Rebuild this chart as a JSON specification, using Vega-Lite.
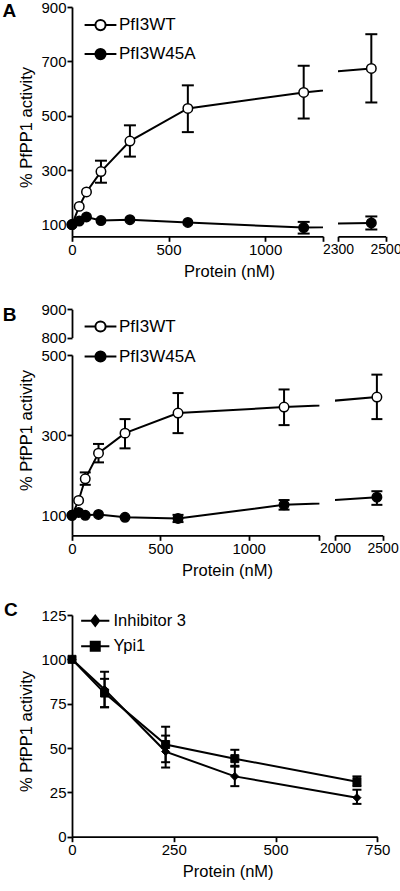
{
  "$schema": "https://vega.github.io/schema/vega-lite/v6.json",
  "padding": {"left": 2, "top": 0, "right": 0, "bottom": 0},
  "config": {
    "font": "Liberation Sans",
    "view": {"stroke": null},
    "axis": {"grid": false, "domainColor": "black", "domainWidth": 1.8, "tickColor": "black", "tickWidth": 1.8, "tickSize": 5, "labelColor": "black", "labelFontSize": 15, "labelPadding": 1, "labelFlush": false, "labelOverlap": false, "format": "d", "titleColor": "black", "titleFontSize": 16.5, "titleFontWeight": "normal", "titlePadding": 6, "labelFont": "Liberation Sans", "titleFont": "Liberation Sans"},
    "legend": {"labelColor": "black", "labelFont": "Liberation Sans"},
    "title": {"color": "black", "font": "Liberation Sans", "fontSize": 19, "fontWeight": "bold"}
  },
  "datasets": {
    "a": [
      {"s": "PfI3WT", "x": 0, "y": 100},
      {"s": "PfI3WT", "x": 37.5, "y": 167},
      {"s": "PfI3WT", "x": 75, "y": 220},
      {"s": "PfI3WT", "x": 150, "y": 295, "lo": 254, "hi": 335},
      {"s": "PfI3WT", "x": 300, "y": 407, "lo": 350, "hi": 465},
      {"s": "PfI3WT", "x": 600, "y": 527, "lo": 440, "hi": 612},
      {"s": "PfI3WT", "x": 1200, "y": 586, "lo": 490, "hi": 684},
      {"s": "PfI3WT", "x": 2440, "y": 674, "lo": 549, "hi": 800},
      {"s": "PfI3W45A", "x": 0, "y": 100},
      {"s": "PfI3W45A", "x": 37.5, "y": 113},
      {"s": "PfI3W45A", "x": 75, "y": 128},
      {"s": "PfI3W45A", "x": 150, "y": 115},
      {"s": "PfI3W45A", "x": 300, "y": 118},
      {"s": "PfI3W45A", "x": 600, "y": 108},
      {"s": "PfI3W45A", "x": 1200, "y": 89, "lo": 67, "hi": 110},
      {"s": "PfI3W45A", "x": 2440, "y": 106, "lo": 82, "hi": 130}
    ],
    "b": [
      {"s": "PfI3WT", "x": 0, "y": 100},
      {"s": "PfI3WT", "x": 37.5, "y": 137},
      {"s": "PfI3WT", "x": 75, "y": 191, "lo": 176, "hi": 207},
      {"s": "PfI3WT", "x": 150, "y": 255, "lo": 232, "hi": 278},
      {"s": "PfI3WT", "x": 300, "y": 305, "lo": 267, "hi": 340},
      {"s": "PfI3WT", "x": 600, "y": 355, "lo": 305, "hi": 405},
      {"s": "PfI3WT", "x": 1200, "y": 370, "lo": 325, "hi": 414},
      {"s": "PfI3WT", "x": 2440, "y": 395, "lo": 340, "hi": 451},
      {"s": "PfI3W45A", "x": 0, "y": 100},
      {"s": "PfI3W45A", "x": 37.5, "y": 107},
      {"s": "PfI3W45A", "x": 75, "y": 100},
      {"s": "PfI3W45A", "x": 150, "y": 102},
      {"s": "PfI3W45A", "x": 300, "y": 95},
      {"s": "PfI3W45A", "x": 600, "y": 92, "lo": 83, "hi": 101},
      {"s": "PfI3W45A", "x": 1200, "y": 126, "lo": 114, "hi": 138},
      {"s": "PfI3W45A", "x": 2440, "y": 145, "lo": 126, "hi": 160}
    ],
    "c": [
      {"s": "Inhibitor 3", "x": 0, "y": 100},
      {"s": "Inhibitor 3", "x": 80, "y": 83, "lo": 73, "hi": 93},
      {"s": "Inhibitor 3", "x": 230, "y": 48, "lo": 39, "hi": 57},
      {"s": "Inhibitor 3", "x": 400, "y": 34, "lo": 28.5, "hi": 40},
      {"s": "Inhibitor 3", "x": 700, "y": 22, "lo": 18.5, "hi": 26.5},
      {"s": "Ypi1", "x": 0, "y": 100},
      {"s": "Ypi1", "x": 80, "y": 81, "lo": 73, "hi": 89},
      {"s": "Ypi1", "x": 230, "y": 52, "lo": 42, "hi": 62},
      {"s": "Ypi1", "x": 400, "y": 44, "lo": 39.5, "hi": 49},
      {"s": "Ypi1", "x": 700, "y": 31, "lo": 28.5, "hi": 34}
    ]
  },
  "spacing": 22,
  "resolve": {"scale": {"fill": "independent", "shape": "independent"}, "legend": {"fill": "independent", "shape": "independent"}},
  "vconcat": [
    {
      "hconcat": [
        {
          "width": 251, "height": 229.3,
          "title": {"text": "A", "anchor": "start", "frame": "group", "orient": "top", "offset": -36, "baseline": "alphabetic", "dx": -69.5},
          "data": {"name": "a"},
          "encoding": {
            "x": {"field": "x", "type": "quantitative", "scale": {"domain": [0, 1300], "nice": false, "zero": false}, "axis": {"values": [0, 500, 1000, 1300], "labelExpr": "datum.value == 1300 ? '' : datum.label", "title": "Protein (nM)", "titleX": 157}},
            "y": {"field": "y", "type": "quantitative", "scale": {"domain": [57, 900], "nice": false, "zero": false}, "axis": {"values": [100, 300, 500, 700, 900], "title": "% PfPP1 activity", "titleY": 120}}
          },
          "layer": [
            {"mark": {"type": "line", "clip": true, "color": "black", "strokeWidth": 2}, "encoding": {"detail": {"field": "s"}}},
            {"transform": [{"filter": "isValid(datum.lo) && datum.x <= 1300"}], "mark": {"type": "rule", "color": "black", "strokeWidth": 2}, "encoding": {"y": {"field": "lo", "type": "quantitative"}, "y2": {"field": "hi"}}},
            {"transform": [{"filter": "isValid(datum.lo) && datum.x <= 1300"}], "mark": {"type": "tick", "orient": "horizontal", "size": 12, "thickness": 2, "color": "black", "opacity": 1}, "encoding": {"y": {"field": "lo", "type": "quantitative"}}},
            {"transform": [{"filter": "isValid(datum.lo) && datum.x <= 1300"}], "mark": {"type": "tick", "orient": "horizontal", "size": 12, "thickness": 2, "color": "black", "opacity": 1}, "encoding": {"y": {"field": "hi", "type": "quantitative"}}},
            {"transform": [{"filter": "datum.x <= 1300"}], "mark": {"type": "point", "shape": "circle", "filled": true, "size": 90, "stroke": "black", "strokeWidth": 1.5, "opacity": 1},
             "encoding": {"fill": {"field": "s", "type": "nominal", "scale": {"domain": ["PfI3WT", "PfI3W45A"], "range": ["white", "black"]},
               "legend": {"title": null, "orient": "none", "legendX": 20, "legendY": 9.6, "padding": 0, "symbolType": "M-5.3,0H-1.7M1.7,0H5.3M-1.7,0A1.7,1.7 0 1,0 1.7,0A1.7,1.7 0 1,0 -1.7,0", "symbolSize": 36, "symbolStrokeColor": "black", "symbolStrokeWidth": 2, "labelFontSize": 17, "labelOffset": 10, "rowPadding": 10}}}}
          ]
        },
        {
          "width": 47.6, "height": 229.3,
          "data": {"name": "a"},
          "encoding": {
            "x": {"field": "x", "type": "quantitative", "scale": {"domain": [2300, 2500], "nice": false, "zero": false}, "axis": {"values": [2300, 2500], "title": null, "labelFontSize": 14}},
            "y": {"field": "y", "type": "quantitative", "scale": {"domain": [57, 900], "nice": false, "zero": false}, "axis": null}
          },
          "layer": [
            {"mark": {"type": "line", "clip": true, "color": "black", "strokeWidth": 2}, "encoding": {"detail": {"field": "s"}}},
            {"transform": [{"filter": "isValid(datum.lo) && datum.x >= 2300"}], "mark": {"type": "rule", "color": "black", "strokeWidth": 2}, "encoding": {"y": {"field": "lo", "type": "quantitative"}, "y2": {"field": "hi"}}},
            {"transform": [{"filter": "isValid(datum.lo) && datum.x >= 2300"}], "mark": {"type": "tick", "orient": "horizontal", "size": 12, "thickness": 2, "color": "black", "opacity": 1}, "encoding": {"y": {"field": "lo", "type": "quantitative"}}},
            {"transform": [{"filter": "isValid(datum.lo) && datum.x >= 2300"}], "mark": {"type": "tick", "orient": "horizontal", "size": 12, "thickness": 2, "color": "black", "opacity": 1}, "encoding": {"y": {"field": "hi", "type": "quantitative"}}},
            {"transform": [{"filter": "datum.x >= 2300"}], "mark": {"type": "point", "shape": "circle", "filled": true, "size": 90, "stroke": "black", "strokeWidth": 1.5, "opacity": 1},
             "encoding": {"fill": {"field": "s", "type": "nominal", "scale": {"domain": ["PfI3WT", "PfI3W45A"], "range": ["white", "black"]}, "legend": null}}}
          ]
        }
      ],
      "spacing": 15,
      "bounds": "flush",
      "resolve": {"scale": {"fill": "independent"}, "legend": {"fill": "independent"}}
    },
    {
      "hconcat": [
        {
          "width": 247.4, "height": 180.3,
          "title": {"text": "B", "anchor": "start", "frame": "group", "orient": "top", "offset": -38, "baseline": "alphabetic", "dx": -69.3},
          "data": {"name": "b"},
          "layer": [
            {
              "encoding": {
                "x": {"field": "x", "type": "quantitative", "scale": {"domain": [0, 1400], "nice": false, "zero": false}, "axis": {"values": [0, 500, 1000, 1400], "labelExpr": "datum.value == 1400 ? '' : datum.label", "title": "Protein (nM)", "titleX": 155}},
                "y": {"field": "y", "type": "quantitative", "scale": {"domain": [50, 500], "nice": false, "zero": false}, "axis": {"orient": "left", "values": [100, 300, 500], "title": "% PfPP1 activity", "titleY": 75}}
              },
              "layer": [
                {"mark": {"type": "line", "clip": true, "color": "black", "strokeWidth": 2}, "encoding": {"detail": {"field": "s"}}},
                {"transform": [{"filter": "isValid(datum.lo) && datum.x <= 1400"}], "mark": {"type": "rule", "color": "black", "strokeWidth": 2}, "encoding": {"y": {"field": "lo", "type": "quantitative"}, "y2": {"field": "hi"}}},
                {"transform": [{"filter": "isValid(datum.lo) && datum.x <= 1400"}], "mark": {"type": "tick", "orient": "horizontal", "size": 11, "thickness": 2, "color": "black", "opacity": 1}, "encoding": {"y": {"field": "lo", "type": "quantitative"}}},
                {"transform": [{"filter": "isValid(datum.lo) && datum.x <= 1400"}], "mark": {"type": "tick", "orient": "horizontal", "size": 11, "thickness": 2, "color": "black", "opacity": 1}, "encoding": {"y": {"field": "hi", "type": "quantitative"}}},
                {"transform": [{"filter": "datum.x <= 1400"}], "mark": {"type": "point", "shape": "circle", "filled": true, "size": 90, "stroke": "black", "strokeWidth": 1.5, "opacity": 1},
                 "encoding": {"fill": {"field": "s", "type": "nominal", "scale": {"domain": ["PfI3WT", "PfI3W45A"], "range": ["white", "black"]},
                   "legend": {"title": null, "orient": "none", "legendX": 20, "legendY": -37, "padding": 0, "symbolType": "M-5.3,0H-1.7M1.7,0H5.3M-1.7,0A1.7,1.7 0 1,0 1.7,0A1.7,1.7 0 1,0 -1.7,0", "symbolSize": 36, "symbolStrokeColor": "black", "symbolStrokeWidth": 2, "labelFontSize": 17, "labelOffset": 10, "rowPadding": 11}}}}
              ]
            },
            {
              "mark": {"type": "point", "opacity": 0, "clip": true},
              "encoding": {
                "x": {"field": "x", "type": "quantitative"},
                "y": {"field": "y", "type": "quantitative", "scale": {"domain": [800, 900], "range": [-17.4, -45.7], "nice": false, "zero": false}, "axis": {"orient": "left", "values": [800, 900], "title": null}}
              }
            }
          ],
          "resolve": {"scale": {"y": "independent"}, "axis": {"y": "independent"}}
        },
        {
          "width": 47.6, "height": 180.3,
          "data": {"name": "b"},
          "encoding": {
            "x": {"field": "x", "type": "quantitative", "scale": {"domain": [2000, 2500], "nice": false, "zero": false}, "axis": {"values": [2000, 2500], "title": null, "labelFontSize": 14}},
            "y": {"field": "y", "type": "quantitative", "scale": {"domain": [50, 500], "nice": false, "zero": false}, "axis": null}
          },
          "layer": [
            {"mark": {"type": "line", "clip": true, "color": "black", "strokeWidth": 2}, "encoding": {"detail": {"field": "s"}}},
            {"transform": [{"filter": "isValid(datum.lo) && datum.x >= 2000"}], "mark": {"type": "rule", "color": "black", "strokeWidth": 2}, "encoding": {"y": {"field": "lo", "type": "quantitative"}, "y2": {"field": "hi"}}},
            {"transform": [{"filter": "isValid(datum.lo) && datum.x >= 2000"}], "mark": {"type": "tick", "orient": "horizontal", "size": 11, "thickness": 2, "color": "black", "opacity": 1}, "encoding": {"y": {"field": "lo", "type": "quantitative"}}},
            {"transform": [{"filter": "isValid(datum.lo) && datum.x >= 2000"}], "mark": {"type": "tick", "orient": "horizontal", "size": 11, "thickness": 2, "color": "black", "opacity": 1}, "encoding": {"y": {"field": "hi", "type": "quantitative"}}},
            {"transform": [{"filter": "datum.x >= 2000"}], "mark": {"type": "point", "shape": "circle", "filled": true, "size": 90, "stroke": "black", "strokeWidth": 1.5, "opacity": 1},
             "encoding": {"fill": {"field": "s", "type": "nominal", "scale": {"domain": ["PfI3WT", "PfI3W45A"], "range": ["white", "black"]}, "legend": null}}}
          ]
        }
      ],
      "spacing": 15,
      "bounds": "flush",
      "resolve": {"scale": {"fill": "independent"}, "legend": {"fill": "independent"}}
    },
    {
      "width": 305.3, "height": 221.7,
      "title": {"text": "C", "anchor": "start", "frame": "group", "orient": "top", "offset": -27, "baseline": "alphabetic", "dx": -68},
      "data": {"name": "c"},
      "encoding": {
        "x": {"field": "x", "type": "quantitative", "scale": {"domain": [0, 750], "nice": false, "zero": false}, "axis": {"values": [0, 250, 500, 750], "title": "Protein (nM)", "titleX": 155.7}},
        "y": {"field": "y", "type": "quantitative", "scale": {"domain": [0, 125], "nice": false, "zero": false}, "axis": {"values": [0, 25, 50, 75, 100, 125], "title": "% PfPP1 activity", "titleY": 116}}
      },
      "layer": [
        {"mark": {"type": "line", "color": "black", "strokeWidth": 2}, "encoding": {"detail": {"field": "s"}}},
        {"transform": [{"filter": "isValid(datum.lo)"}], "mark": {"type": "rule", "color": "black", "strokeWidth": 2}, "encoding": {"y": {"field": "lo", "type": "quantitative"}, "y2": {"field": "hi"}}},
        {"transform": [{"filter": "isValid(datum.lo)"}], "mark": {"type": "tick", "orient": "horizontal", "size": 9, "thickness": 2, "color": "black", "opacity": 1}, "encoding": {"y": {"field": "lo", "type": "quantitative"}}},
        {"transform": [{"filter": "isValid(datum.lo)"}], "mark": {"type": "tick", "orient": "horizontal", "size": 9, "thickness": 2, "color": "black", "opacity": 1}, "encoding": {"y": {"field": "hi", "type": "quantitative"}}},
        {"mark": {"type": "point", "filled": true, "size": 64, "fill": "black", "stroke": "black", "strokeWidth": 1, "opacity": 1},
         "encoding": {"shape": {"field": "s", "type": "nominal", "scale": {"domain": ["Inhibitor 3", "Ypi1"], "range": ["diamond", "square"]}, "legend": null}}},
        {"transform": [{"filter": "false"}], "mark": {"type": "point", "filled": true, "stroke": "black", "strokeWidth": 2, "opacity": 1},
         "encoding": {"fill": {"field": "s", "type": "nominal", "scale": {"domain": ["Inhibitor 3"], "range": ["black"]},
           "legend": {"title": null, "orient": "none", "legendX": 15, "legendY": -2.5, "padding": 0, "symbolType": "M-4.7,0H4.7M0,-1.7L1.3,0L0,1.7L-1.3,0Z", "symbolSize": 36, "symbolStrokeColor": "black", "symbolStrokeWidth": 2, "labelFontSize": 16.5, "labelOffset": 10}}}},
        {"transform": [{"filter": "false"}], "mark": {"type": "point", "filled": true, "stroke": "black", "strokeWidth": 2, "opacity": 1},
         "encoding": {"fill": {"field": "s", "type": "nominal", "scale": {"domain": ["Ypi1"], "range": ["black"]},
           "legend": {"title": null, "orient": "none", "legendX": 15, "legendY": 23, "padding": 0, "symbolType": "M-4.7,0H4.7M-1.5,-1.5H1.5V1.5H-1.5Z", "symbolSize": 36, "symbolStrokeColor": "black", "symbolStrokeWidth": 2, "labelFontSize": 16.5, "labelOffset": 10}}}}
      ],
      "resolve": {"scale": {"shape": "independent", "fill": "independent"}, "legend": {"shape": "independent", "fill": "independent"}}
    }
  ]
}
